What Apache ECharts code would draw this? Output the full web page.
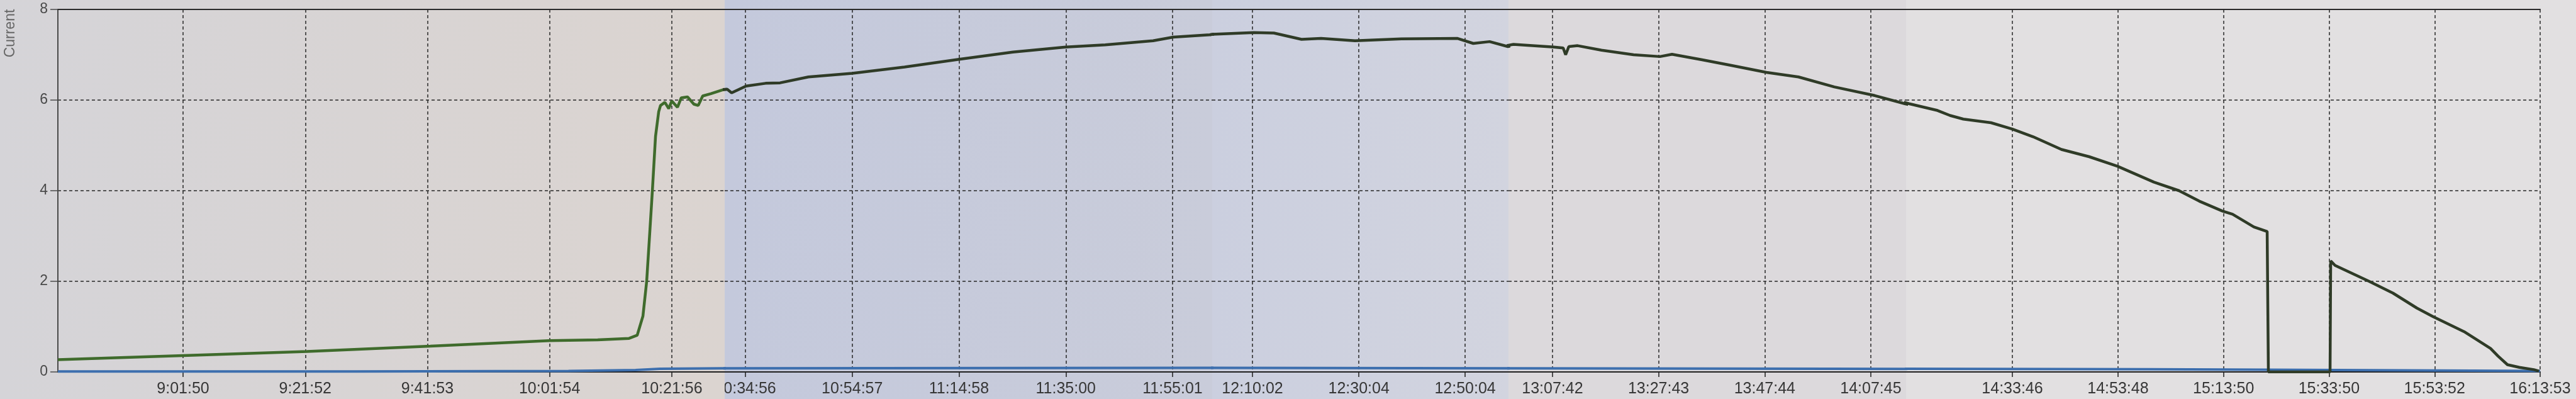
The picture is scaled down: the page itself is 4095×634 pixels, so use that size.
<!DOCTYPE html>
<html><head><meta charset="utf-8">
<script src="https://cdn.jsdelivr.net/npm/echarts@6/dist/echarts.min.js"></script>
<style>html,body{margin:0;padding:0;background:#d8d6d9;overflow:hidden}#c{width:4095px;height:634px}</style>
</head><body><div id="c"></div>
<script>
// ---------------- data ----------------
const yTicks = [0, 2, 4, 6, 8];
const xTickLabels = ['9:01:50','9:21:52','9:41:53','10:01:54','10:21:56',
  '10:34:56','10:54:57','11:14:58','11:35:00','11:55:01',
  '12:10:02','12:30:04','12:50:04',
  '13:07:42','13:27:43','13:47:44','14:07:45',
  '14:33:46','14:53:48','15:13:50','15:33:50','15:53:52','16:13:53'];
const greenTimes = ['8:41:19','9:01:50','9:22:09','9:42:21','10:01:56','10:09:47','10:14:56','10:16:16','10:17:12','10:17:49',
  '10:18:20','10:18:45','10:19:16','10:19:47','10:20:05','10:20:48','10:21:26','10:21:56','10:22:52','10:23:29',
  '10:24:31','10:25:33','10:26:16','10:27:00','10:28:20','10:30:24','10:31:30','10:32:20','10:35:03','10:38:42',
  '10:41:25','10:46:44','10:54:57','11:04:46','11:14:58','11:25:04','11:35:00','11:42:24','11:51:22','11:55:08',
  '12:01:59','12:02:27','12:10:16','12:14:04','12:19:16','12:22:57','12:29:20','12:38:06','12:48:39','12:51:36',
  '12:54:41','12:58:07','13:00:20','13:07:56','13:09:43','13:10:11','13:10:47','13:12:27','13:16:57','13:23:00',
  '13:27:59','13:30:15','13:35:56','13:41:10','13:48:03','13:54:06','14:00:52','14:08:28','14:14:09','14:19:34',
  '14:21:57','14:24:28','14:29:43','14:33:46','14:37:42','14:43:05','14:48:20','14:53:42','15:00:37','15:05:23',
  '15:09:13','15:13:37','15:15:32','15:19:35','15:22:06','15:22:20','15:34:02','15:34:09','15:34:59','15:41:26',
  '15:45:58','15:50:30','15:53:36','15:59:27','16:04:28','16:05:54','16:07:41','16:09:57','16:12:42','16:13:39'];
const greenValues = [0.27,0.36,0.45,0.57,0.69,0.71,0.74,0.81,1.23,2.0,
  3.1,4.0,5.2,5.74,5.88,5.95,5.81,5.98,5.84,6.05,
  6.07,5.91,5.88,6.09,6.14,6.23,6.24,6.16,6.31,6.37,
  6.38,6.51,6.59,6.73,6.90,7.06,7.17,7.22,7.31,7.39,
  7.44,7.45,7.49,7.48,7.34,7.36,7.31,7.35,7.36,7.25,
  7.29,7.18,7.23,7.17,7.15,7.00,7.18,7.20,7.10,7.00,
  6.96,7.01,6.89,6.77,6.61,6.51,6.29,6.10,5.92,5.77,
  5.66,5.58,5.50,5.36,5.19,4.91,4.75,4.54,4.19,4.00,
  3.77,3.55,3.48,3.20,3.10,0.00,0.00,2.45,2.35,2.00,
  1.74,1.41,1.22,0.89,0.52,0.35,0.16,0.10,0.05,0.02];
const blueTimes = ['8:41:19','9:30:00','10:05:00','10:16:00','10:20:00','10:30:00','12:00:00','13:00:00','14:00:00','15:00:00','15:22:00','16:13:53'];
const blueValues = [0.01,0.01,0.02,0.04,0.07,0.08,0.09,0.08,0.07,0.06,0.05,0.02];
// visible time span of each stitched screen
const panelStart = ['8:41:19','10:31:02','12:02:27','12:59:24','14:13:36'];
const panelEnd   = ['10:30:36','12:02:27','12:58:14','14:14:24','16:13:53'];

// ---------------- layout / style ----------------
const PANEL_PX = [[92,1152],[1152,1927],[1927,2398],[2398,3030],[3030,4038]];
const BG_PX = [[0,1152],[1152,1927],[1927,2398],[2398,3030],[3030,4095]];
const BG = [
  {type:'linear',x:0,y:0,x2:1,y2:0,colorStops:[{offset:0,color:'#d5d4d8'},{offset:1,color:'#dbd4d0'}]},
  {type:'linear',x:0,y:0,x2:1,y2:0,colorStops:[{offset:0,color:'#c4c9dc'},{offset:1,color:'#c9ccda'}]},
  {type:'linear',x:0,y:0,x2:1,y2:0,colorStops:[{offset:0,color:'#cbcfdf'},{offset:1,color:'#d2d4df'}]},
  '#dcd9dc', '#e2e0e1'];
const GREEN = ['#3f6b2c','#2f3b27','#2f3b27','#2f3b27','#2f3b27'];
const TOP = 15, BOTTOM = 591;
const LABEL_FONT = "'Liberation Sans',Arial,sans-serif";

function sec(s){const p=s.split(':').map(Number);return p[0]*3600+p[1]*60+p[2];}
function fmt(v){v=Math.round(v);const h=Math.floor(v/3600),m=Math.floor(v%3600/60),s=v%60;return h+':'+String(m).padStart(2,'0')+':'+String(s).padStart(2,'0');}
function pick(times, vals, t0, t1){
  const ts = times.map(sec), out=[];
  for(let i=0;i<ts.length;i++){
    const inside = ts[i]>=t0 && ts[i]<=t1;
    const before = ts[i]<t0 && i+1<ts.length && ts[i+1]>=t0;
    const after = ts[i]>t1 && i>0 && ts[i-1]<=t1;
    if(inside||before||after) out.push([ts[i], vals[i]]);
  }
  return out;
}
const tickSecs = xTickLabels.map(sec);
const dash = {color:'#262626', width:1.5, type:[5,4]};

const grid=[], xAxis=[], xTop=[], yAxis=[], series=[];
PANEL_PX.forEach((px,p)=>{
  const t0=sec(panelStart[p]), t1=sec(panelEnd[p]);
  const ticks = tickSecs.filter(t=>t>=t0&&t<=t1);
  grid.push({left:px[0], width:px[1]-px[0], top:TOP, height:BOTTOM-TOP});
  xAxis.push({type:'value', gridIndex:p, min:t0, max:t1,
    axisLine:{show:true,onZero:false,lineStyle:{color:'#1e1e1e',width:2}},
    axisTick:{show:true,customValues:ticks,length:8,lineStyle:{color:'#1e1e1e',width:1.5}},
    axisLabel:{show:true,customValues:ticks,formatter:v=>fmt(v),fontSize:25,fontFamily:LABEL_FONT,color:'#363636',margin:15,hideOverlap:false,showMinLabel:true,showMaxLabel:true},
    splitLine:{show:true,lineStyle:dash}});
  xTop.push({type:'value', gridIndex:p, min:t0, max:t1, position:'top',
    axisLine:{show:true,onZero:false,lineStyle:{color:'#2a2a2a',width:2}},
    axisTick:{show:false}, axisLabel:{show:false}, splitLine:{show:false}});
  yAxis.push({type:'value', gridIndex:p, min:yTicks[0], max:yTicks[yTicks.length-1], interval:2,
    axisLine:{show:p===0,lineStyle:{color:'#4a4a4a',width:2}},
    axisTick:{show:p===0,length:12,lineStyle:{color:'#4a4a4a',width:1.5}},
    axisLabel:{show:p===0,fontSize:23,fontFamily:"'Liberation Sans',Arial,sans-serif",color:'#4a4a4a',margin:16},
    splitLine:{show:true,lineStyle:dash}});
  series.push({type:'line', xAxisIndex:p, yAxisIndex:p, data:pick(blueTimes,blueValues,t0,t1),
    showSymbol:false, clip:true, z:3, lineStyle:{color:'#3d6fae',width:4}});
  series.push({type:'line', xAxisIndex:p, yAxisIndex:p, data:pick(greenTimes,greenValues,t0,t1),
    showSymbol:false, clip:true, z:4, lineStyle:{color:GREEN[p],width:4.5}});
});

const graphic = BG_PX.map((b,i)=>({type:'rect', silent:true, z:-100, shape:{x:b[0],y:0,width:b[1]-b[0],height:634}, style:{fill:BG[i]}}));
// stitched seam hides the left part of the first label of screen 2
graphic.push({type:'rect', silent:true, z:100, shape:{x:1124,y:597,width:28,height:37}, style:{fill:'#dbd4d0'}});
graphic.push({type:'text', x:17, y:53, rotation:Math.PI/2, z:100,
  style:{text:'Current', align:'center', verticalAlign:'middle', font:"23px 'Liberation Sans',Arial,sans-serif", fill:'#666666'}});

const chart = echarts.init(document.getElementById('c'), null, {renderer:'canvas'});
chart.setOption({animation:false, backgroundColor:'transparent', graphic, grid,
  xAxis: xAxis.concat(xTop), yAxis, series});
</script></body></html>
